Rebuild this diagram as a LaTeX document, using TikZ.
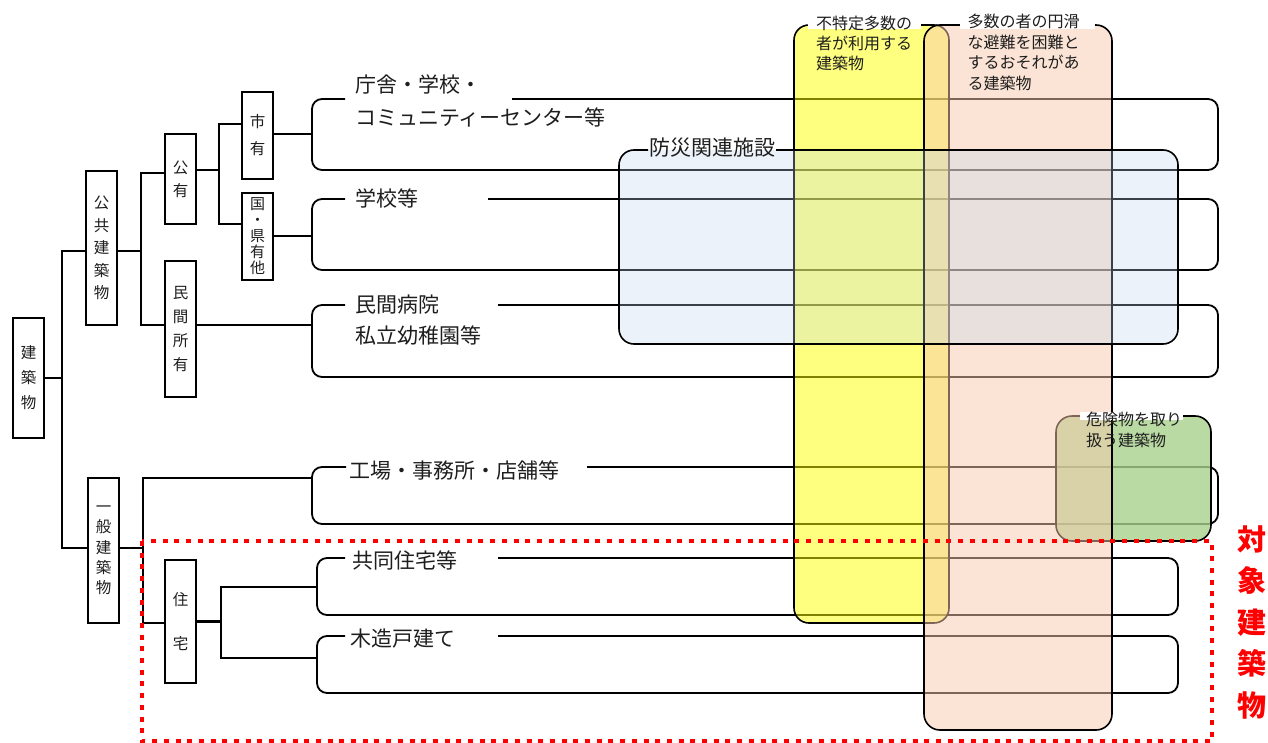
\documentclass[tikz,border=0pt]{standalone}
\usepackage{fontspec}
\setmainfont{Noto Sans CJK JP}
\definecolor{ylw}{RGB}{255,255,0}
\definecolor{org}{RGB}{248,203,173}
\definecolor{blu}{RGB}{189,215,238}
\definecolor{grn}{RGB}{169,209,142}
\definecolor{txt}{RGB}{30,30,30}
\tikzset{
  vbox/.style={draw=black, line width=1.8pt, minimum width=31pt, inner sep=0pt, align=center, text=txt},
  conn/.style={line width=2.4pt},
  cat/.style={line width=1.8pt, rounded corners=10pt},
  cattext/.style={anchor=base west, align=left, inner sep=0pt, text=txt, font=\fontsize{21}{33}\selectfont},
  smalltext/.style={anchor=base west, align=left, inner sep=0pt, text=txt, font=\fontsize{16}{20.6}\selectfont},
  overlay/.style={draw=black, line width=1.6pt},
  reddot/.style={draw=red, line width=4.3pt, dash pattern=on 5pt off 6.7pt},
}
\begin{document}
\begin{tikzpicture}[x=1pt,y=-1pt]
\fill[white] (0,0) rectangle (1268,743);
\useasboundingbox (0,0) rectangle (1268,743);

% category boxes (open top edge where the label sits)
\draw[cat] (345,99) -- (312,99) -- (312,170) -- (1218,170) -- (1218,99) -- (512,99);
\draw[cat] (345,199) -- (312,199) -- (312,270) -- (1218,270) -- (1218,199) -- (488,199);
\draw[cat] (345,305) -- (312,305) -- (312,377) -- (1218,377) -- (1218,305) -- (498,305);
\draw[cat] (346,467) -- (312,467) -- (312,524) -- (1218,524) -- (1218,467) -- (587,467);
\draw[cat] (345,558) -- (317,558) -- (317,615) -- (1178,615) -- (1178,558) -- (498,558);
\draw[cat] (345,636) -- (317,636) -- (317,693) -- (1178,693) -- (1178,636) -- (498,636);
\coordinate (c1) at (312,134);
\coordinate (c2) at (312,236);
\coordinate (c3) at (312,325);
\coordinate (c4) at (312,478);
\coordinate (c5) at (317,587);
\coordinate (c6) at (317,658);

% category labels (anchor = baseline of the last line)
\node[cattext] (t1) at (355,126) {庁舎・学校・\\コミュニティーセンター等};
\node[cattext] (t2) at (355,206.5) {学校等};
\node[cattext, font=\fontsize{21}{31}\selectfont] (t3) at (355,343) {民間病院\\私立幼稚園等};
\node[cattext] (t4) at (349,478) {工場・事務所・店舗等};
\node[cattext] (t5) at (352,568) {共同住宅等};
\node[cattext] (t6) at (350,646) {木造戸建て};

% tree boxes
\node[vbox, minimum height=120pt, font=\fontsize{15.5}{25}\selectfont] (b0) at (28.5,378) {建\\築\\物};
\node[vbox, minimum height=154pt, font=\fontsize{15.5}{22.5}\selectfont] (b1) at (101.5,248) {公\\共\\建\\築\\物};
\node[vbox, minimum height=145pt, font=\fontsize{15.5}{20.3}\selectfont] (b2) at (103.5,550.5) {一\\般\\建\\築\\物};
\node[vbox, minimum height=90pt, font=\fontsize{15.5}{23}\selectfont] (b3) at (180.5,179) {公\\有};
\node[vbox, minimum height=136pt, font=\fontsize{15.5}{24.3}\selectfont] (b4) at (180.5,329) {民\\間\\所\\有};
\node[vbox, minimum height=87pt, font=\fontsize{15.5}{27}\selectfont] (b5) at (257.5,135.5) {市\\有};
\node[vbox, minimum height=87pt, font=\fontsize{15}{16}\selectfont] (b6) at (257.5,236.5) {国\\・\\県\\有\\他};
\node[vbox, minimum height=123pt, font=\fontsize{15.5}{44}\selectfont] (b7) at (180.5,621.5) {住\\宅};

% connectors
\draw[conn] (b0.east) -| ([xshift=-23pt,yshift=-3pt]b1.west) -- ([yshift=-3pt]b1.west);
\draw[conn] (b0.east) -| ([xshift=-25pt,yshift=2.5pt]b2.west) -- ([yshift=2.5pt]b2.west);
\draw[conn] ([yshift=-3pt]b1.east) -| ([xshift=-23pt,yshift=6pt]b3.west) -- ([yshift=6pt]b3.west);
\draw[conn] ([yshift=-3pt]b1.east) -| ([xshift=-23pt,yshift=4pt]b4.west) -- ([yshift=4pt]b4.west);
\draw[conn] ([yshift=4pt]b4.east) -- (c3);
\draw[conn] ([yshift=9pt]b3.east) -| ([xshift=-22pt,yshift=11.5pt]b5.west) -- ([yshift=11.5pt]b5.west);
\draw[conn] ([yshift=9pt]b3.east) -| ([xshift=-22pt,yshift=12.5pt]b6.west) -- ([yshift=12.5pt]b6.west);
\draw[conn] ([yshift=1.5pt]b5.east) -- (c1);
\draw[conn] ([yshift=0.5pt]b6.east) -- (c2);
\draw[conn] ([yshift=2.5pt]b2.east) -- ++(23,0) |- (c4);
\draw[conn] ([yshift=2.5pt]b2.east) -- ++(23,0) |- ([yshift=-1.5pt]b7.west);
\draw[conn] (b7.east) -- ++(24,0) |- (c5);
\draw[conn] (b7.east) -- ++(24,0) |- (c6);

% overlays
\filldraw[overlay, fill=ylw, fill opacity=0.5, rounded corners=15pt] (794,25) rectangle (949,623);
\filldraw[overlay, fill=grn, fill opacity=0.8, rounded corners=16pt] (1056,416) rectangle (1211,541);
\filldraw[overlay, fill=org, fill opacity=0.5, rounded corners=16pt] (924,25) rectangle (1112,730);
\fill[blu, fill opacity=0.3, rounded corners=15pt] (619,150) rectangle (1178,344);
\draw[overlay, rounded corners=15pt] (648,150) -- (619,150) -- (619,344) -- (1178,344) -- (1178,150) -- (776,150);

% target frame
\draw[reddot] (142,541) rectangle (1212,741.5);

% overlay titles
\fill[white] (808,15) rectangle (921,29);
\fill[white] (960,15) rectangle (1095,29);
\fill[white] (1080,412) rectangle (1183,420);
\node[smalltext, font=\fontsize{16}{20.3}\selectfont] (ty) at (816,70) {不特定多数の\\者が利用する\\建築物};
\node[smalltext] (to) at (967.5,89.6) {多数の者の円滑\\な避難を困難と\\するおそれがあ\\る建築物};
\node[smalltext, font=\fontsize{16}{21.3}\selectfont] (tg) at (1086,446.7) {危険物を取り\\扱う建築物};
\node[anchor=base west, inner sep=0pt, text=txt, font=\fontsize{21}{25}\selectfont] (tb) at (649,156) {防災関連施設};
\node[anchor=base, align=center, inner sep=0pt, text=red, font=\fontsize{29}{41.5}\selectfont\bfseries] (tr) at (1251.5,716) {対\\象\\建\\築\\物};
\end{tikzpicture}
\end{document}
